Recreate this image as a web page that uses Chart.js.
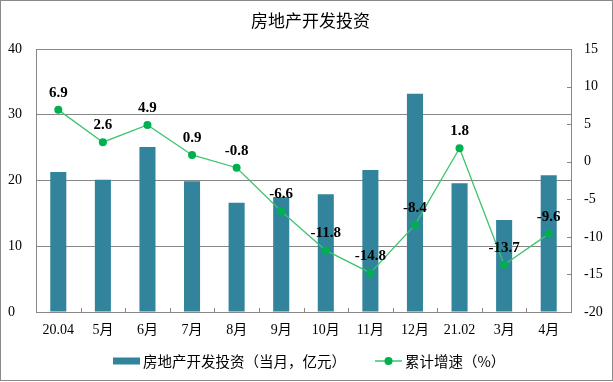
<!DOCTYPE html>
<html>
<head>
<meta charset="utf-8">
<script src="https://cdn.jsdelivr.net/npm/chart.js@4/dist/chart.umd.min.js"></script>
<style>
  html, body { margin: 0; padding: 0; background: #fff; }
  #wrap { position: relative; width: 613px; height: 382px; }
  #frame { position: absolute; left: 0; top: 0; width: 613px; height: 381px; box-sizing: border-box; border: 1px solid #8a8a8a; pointer-events: none; }
  canvas { display: block; }
</style>
</head>
<body>
<div id="wrap">
  <canvas id="c" width="613" height="382"></canvas>
  <div id="frame"></div>
</div>
<script>
const categories = ['20.04', '5月', '6月', '7月', '8月', '9月', '10月', '11月', '12月', '21.02', '3月', '4月'];
const investment = [21.3, 20.1, 25.1, 19.9, 16.6, 17.5, 17.9, 21.6, 33.2, 19.6, 14.0, 20.8];
const growth = [6.9, 2.6, 4.9, 0.9, -0.8, -6.6, -11.8, -14.8, -8.4, 1.8, -13.7, -9.6];
const leftTicks = [0, 10, 20, 30, 40];
const rightTicks = [-20, -15, -10, -5, 0, 5, 10, 15];
const titleText = '房地产开发投资';
const barLabel = '房地产开发投资（当月，亿元）';
const lineLabel = '累计增速（%）';

const BAR_COLOR = '#31849B';
const LINE_COLOR = '#3DC46E';
const POINT_COLOR = '#00B050';
const GRID = '#878787';
const FONT = '"Liberation Serif", "Noto Sans CJK SC", serif';
const CJK = '"Noto Sans CJK SC", sans-serif';

const extras = {
  id: 'extras',
  afterDatasetsDraw(chart) {
    const ctx = chart.ctx;
    const meta = chart.getDatasetMeta(1);
    ctx.save();
    ctx.font = 'bold 15px ' + FONT;
    ctx.fillStyle = '#000';
    ctx.textAlign = 'center';
    ctx.textBaseline = 'middle';
    meta.data.forEach((pt, i) => {
      ctx.fillText(growth[i].toFixed(1), pt.x, pt.y - 17);
    });
    ctx.restore();
  },
  afterDraw(chart) {
    const ctx = chart.ctx;
    const x = chart.scales.x, y1 = chart.scales.y1, a = chart.chartArea;
    ctx.save();
    ctx.strokeStyle = GRID; ctx.lineWidth = 1;
    ctx.beginPath();
    for (let i = 1; i < categories.length; i++) {
      const px = Math.round((x.getPixelForValue(i - 1) + x.getPixelForValue(i)) / 2) + 0.5;
      ctx.moveTo(px, a.bottom - 4); ctx.lineTo(px, a.bottom);
    }
    rightTicks.forEach(v => {
      const py = Math.round(y1.getPixelForValue(v)) + 0.5;
      ctx.moveTo(a.right - 4, py); ctx.lineTo(a.right, py);
    });
    ctx.stroke();

    // legend
    ctx.font = '14.5px ' + CJK;
    ctx.textBaseline = 'middle';
    ctx.textAlign = 'left';
    const sw = 27, gap = 3;
    const ly = 361;
    let lx = 113;
    ctx.fillStyle = BAR_COLOR;
    ctx.fillRect(lx, ly - 3.5, sw, 7);
    ctx.fillStyle = '#000';
    ctx.fillText(barLabel, lx + sw + gap, ly);
    lx = 375;
    ctx.strokeStyle = LINE_COLOR; ctx.lineWidth = 1.5;
    ctx.beginPath(); ctx.moveTo(lx, ly); ctx.lineTo(lx + sw, ly); ctx.stroke();
    ctx.fillStyle = POINT_COLOR;
    ctx.beginPath(); ctx.arc(lx + sw / 2, ly, 4, 0, Math.PI * 2); ctx.fill();
    ctx.fillStyle = '#000';
    ctx.fillText(lineLabel, lx + sw + gap, ly);
    ctx.restore();
  }
};

new Chart(document.getElementById('c'), {
  data: {
    labels: categories,
    datasets: [
      { type: 'bar', label: barLabel, data: investment, yAxisID: 'y', backgroundColor: BAR_COLOR,
        barPercentage: 0.36, categoryPercentage: 1.0, order: 2 },
      { type: 'line', label: lineLabel, data: growth, yAxisID: 'y1', borderColor: LINE_COLOR, borderWidth: 1.3,
        pointBackgroundColor: POINT_COLOR, pointBorderColor: POINT_COLOR, pointRadius: 4, pointBorderWidth: 0,
        tension: 0, order: 1 }
    ]
  },
  options: {
    responsive: false,
    animation: false,
    layout: { padding: { left: 8, right: 0, top: 0, bottom: 40 } },
    plugins: {
      tooltip: { enabled: false },
      legend: { display: false },
      title: { display: true, text: titleText, color: '#000',
        font: { family: CJK, size: 17, weight: 'normal', lineHeight: 1.2 },
        padding: { top: 10, bottom: 18.6 } }
    },
    scales: {
      x: {
        grid: { display: false, drawTicks: false },
        border: { display: false },
        ticks: { color: '#000', font: { family: FONT, size: 14 }, padding: 10, maxRotation: 0, autoSkip: false },
        afterFit(s) { s.height = 30; }
      },
      y: {
        position: 'left', min: 0, max: 40,
        afterBuildTicks(s) { s.ticks = leftTicks.map(v => ({ value: v })); },
        grid: { color: GRID, drawTicks: false, lineWidth: 1 },
        border: { display: true, color: GRID, width: 1 },
        ticks: { color: '#000', font: { family: FONT, size: 14 }, crossAlign: 'far', padding: 13 },
        afterFit(s) { s.width = 28; }
      },
      y1: {
        position: 'right', min: -20, max: 15,
        afterBuildTicks(s) { s.ticks = rightTicks.map(v => ({ value: v })); },
        grid: { drawOnChartArea: false, drawTicks: false },
        border: { display: true, color: GRID, width: 1 },
        ticks: { color: '#000', font: { family: FONT, size: 14 }, padding: 13 },
        afterFit(s) { s.width = 42; }
      }
    }
  },
  plugins: [extras]
});
</script>
</body>
</html>
